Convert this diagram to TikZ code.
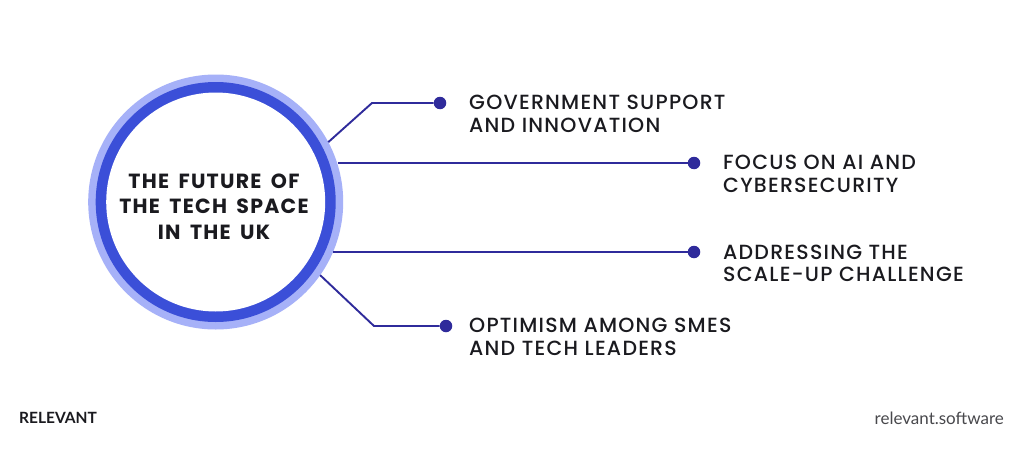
\documentclass[tikz,border=0pt]{standalone}
\usepackage{fontspec}
\setmainfont{Poppins Medium}[LetterSpace=6]
\newfontfamily\titlefont{Poppins Bold}[LetterSpace=6,WordSpace=1.7]
\newfontfamily\footfont{Lato}
\definecolor{halo}{HTML}{A6B1F8}
\definecolor{ring}{HTML}{3B4FD8}
\definecolor{wire}{HTML}{2F2B9B}
\definecolor{ink}{HTML}{1A1A1F}
\tikzset{
  x=1pt,y=-1pt,
  disc/.style={circle,inner sep=0pt,outer sep=0pt},
  wireline/.style={draw=wire,line width=1.9pt,line join=miter},
  dot/.style={circle,fill=wire,inner sep=0pt,minimum size=12.5pt},
  label/.style={anchor=west,align=left,text=ink,font=\fontsize{20.5}{22.6}\selectfont,inner sep=0pt},
}
\begin{document}
\begin{tikzpicture}
\useasboundingbox (0,0) rectangle (1024,460);
\fill[white] (0,0) rectangle (1024,460);
\node[disc,fill=halo,minimum size=255pt] (halo) at (215.7,202) {};
\node[disc,fill=ring,minimum size=240pt] (ring) at (halo.center) {};
\node[disc,fill=white,minimum size=219pt] (hub) at (halo.center) {};
\node[align=center,text=ink,font=\titlefont\fontsize{20.5}{25.7}\selectfont] (title) at (214,206.5) {THE FUTURE OF\\THE TECH SPACE\\IN THE UK};
\node[dot] (d1) at (440,103) {};
\node[dot] (d2) at (694,163) {};
\node[dot] (d3) at (694,252) {};
\node[dot] (d4) at (446,326) {};
\coordinate (k1) at (372,103);
\coordinate (k4) at (374,326);
\draw[wireline] (halo.28.3) -- (k1) -- (d1);
\draw[wireline] (halo.17.81 |- d2) -- (d2);
\draw[wireline] (halo.-23.09 |- d3) -- (d3);
\draw[wireline] (halo.-35.5) -- (k4) -- (d4);
\node[label] (t1) at (469,114) {GOVERNMENT SUPPORT\\AND INNOVATION};
\node[label] (t2) at (723,174) {FOCUS ON AI AND\\CYBERSECURITY};
\node[label] (t3) at (723,263.5) {ADDRESSING THE\\SCALE-UP CHALLENGE};
\node[label] (t4) at (469,337) {OPTIMISM AMONG SMES\\AND TECH LEADERS};
\node[anchor=west,inner sep=0pt,text=ink,font=\footfont\fontsize{15.5}{17}\selectfont\bfseries] (brand) at (19,418) {RELEVANT};
\node[anchor=east,inner sep=0pt,text=ink!80,font=\footfont\fontsize{17}{19}\selectfont] (site) at (1004,418) {relevant.software};
\end{tikzpicture}
\end{document}
